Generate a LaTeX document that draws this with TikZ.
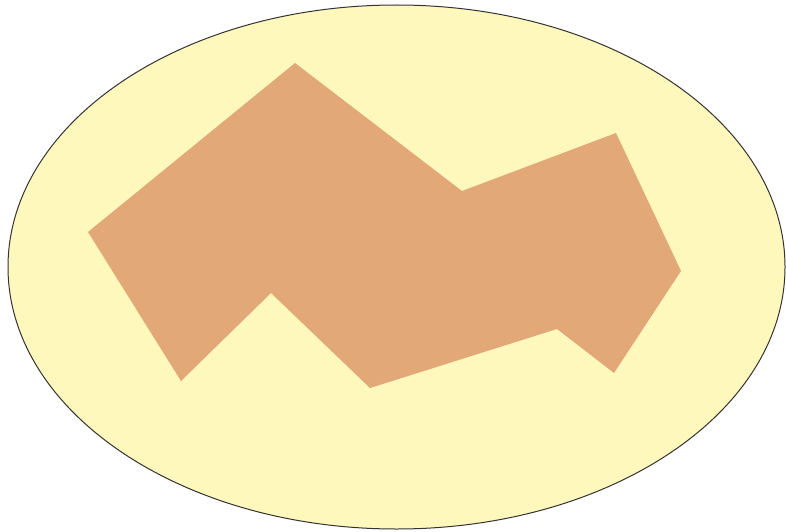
\documentclass[tikz,border=0pt]{standalone}
\definecolor{paleyellow}{RGB}{255,248,188}
\definecolor{tan}{RGB}{226,168,120}
\definecolor{outline}{RGB}{51,51,51}
\tikzset{
  region/.style={fill=paleyellow, draw=outline, line width=1pt},
  blob/.style={fill=tan, draw=none}
}
\begin{document}
\begin{tikzpicture}[x=1pt,y=-1pt]
\useasboundingbox (0,0) rectangle (786,532);
\draw[region] (396.5,267) ellipse [x radius=388.5, y radius=262];
\fill[blob] (88,232) -- (295,63) -- (462,191) -- (616,133) -- (681,271)
  -- (614,373) -- (557,329) -- (370,388) -- (271,293) -- (181,381) -- cycle;
\end{tikzpicture}
\end{document}
